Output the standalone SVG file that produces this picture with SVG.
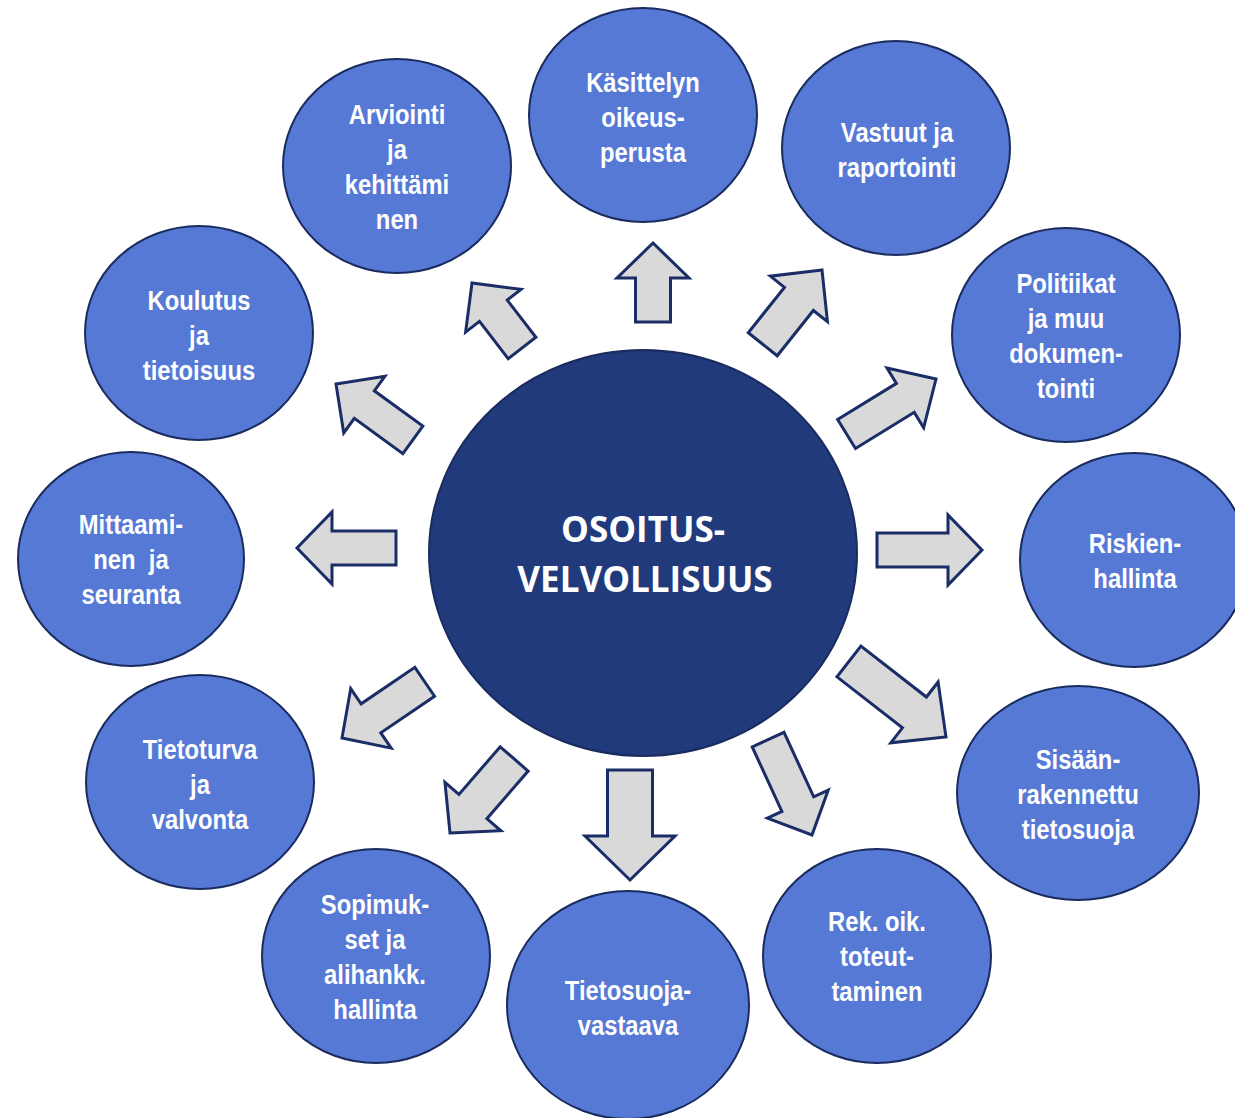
<svg xmlns="http://www.w3.org/2000/svg" width="1235" height="1118" viewBox="0 0 1235 1118">
<style>
.node{fill:#5679d6;stroke:#1a2b5e;stroke-width:2}
.hub{fill:#203a7c;stroke:#1a2b5e;stroke-width:2}
.lbl{font-family:"Liberation Sans",Arial,sans-serif;font-weight:bold;font-size:28px;fill:#ffffff;text-anchor:middle;white-space:pre}
.hubl{font-family:"Open Sans","Liberation Sans",sans-serif;font-weight:bold;font-size:35px;fill:#ffffff;text-anchor:middle}
.arr{fill:#d9d9d9;stroke:#1b2d66;stroke-width:3;stroke-linejoin:miter}
</style>
<rect width="1235" height="1118" fill="#ffffff"/>
<g id="connectors">
<path class="arr" transform="translate(653,243) rotate(-90)" d="M0,0 L-35,-36 L-35,-17.5 L-79,-17.5 L-79,17.5 L-35,17.5 L-35,36 Z"/>
<path class="arr" transform="translate(822,270) rotate(-51.4)" d="M0,0 L-37,-36.5 L-37,-18.5 L-95,-18.5 L-95,18.5 L-37,18.5 L-37,36.5 Z"/>
<path class="arr" transform="translate(936,379) rotate(-31.6)" d="M0,0 L-36,-35 L-36,-17 L-105,-17 L-105,17 L-36,17 L-36,35 Z"/>
<path class="arr" transform="translate(982,550)" d="M0,0 L-34,-35 L-34,-17 L-105,-17 L-105,17 L-34,17 L-34,35 Z"/>
<path class="arr" transform="translate(946,737) rotate(37.9)" d="M0,0 L-40,-38.5 L-40,-19.5 L-123,-19.5 L-123,19.5 L-40,19.5 L-40,38.5 Z"/>
<path class="arr" transform="translate(812,835) rotate(65.3)" d="M0,0 L-34,-33.5 L-34,-17.5 L-105,-17.5 L-105,17.5 L-34,17.5 L-34,33.5 Z"/>
<path class="arr" transform="translate(630,880) rotate(90)" d="M0,0 L-44,-45 L-44,-22.5 L-110,-22.5 L-110,22.5 L-44,22.5 L-44,45 Z"/>
<path class="arr" transform="translate(450,833) rotate(130.9)" d="M0,0 L-35,-37 L-35,-18.5 L-98,-18.5 L-98,18.5 L-35,18.5 L-35,37 Z"/>
<path class="arr" transform="translate(342,738) rotate(145.8)" d="M0,0 L-35,-36 L-35,-17.5 L-100,-17.5 L-100,17.5 L-35,17.5 L-35,36 Z"/>
<path class="arr" transform="translate(297,548) rotate(180)" d="M0,0 L-35,-36 L-35,-17 L-99,-17 L-99,17 L-35,17 L-35,36 Z"/>
<path class="arr" transform="translate(336,384) rotate(-144)" d="M0,0 L-35,-35 L-35,-17 L-95,-17 L-95,17 L-35,17 L-35,35 Z"/>
<path class="arr" transform="translate(472,283) rotate(-127.6)" d="M0,0 L-35,-35 L-35,-17.5 L-82,-17.5 L-82,17.5 L-35,17.5 L-35,35 Z"/>
</g>
<g id="hub">
<ellipse class="hub" cx="643" cy="553" rx="214" ry="203"/>
<text class="hubl" x="643" y="542">OSOITUS-</text>
<text class="hubl" x="645" y="592">VELVOLLISUUS</text>
</g>
<g id="n1">
<ellipse class="node" cx="643" cy="115" rx="114" ry="107"/>
<g transform="translate(643 0) scale(0.85 1)">
<text class="lbl" x="0" y="92">Käsittelyn</text>
<text class="lbl" x="0" y="127">oikeus-</text>
<text class="lbl" x="0" y="162">perusta</text>
</g>
</g>
<g id="n2">
<ellipse class="node" cx="896" cy="148" rx="114" ry="107"/>
<g transform="translate(897 0) scale(0.85 1)">
<text class="lbl" x="0" y="142">Vastuut ja</text>
<text class="lbl" x="0" y="177">raportointi</text>
</g>
</g>
<g id="n3">
<ellipse class="node" cx="1066" cy="335" rx="114" ry="107"/>
<g transform="translate(1066 0) scale(0.85 1)">
<text class="lbl" x="0" y="293">Politiikat</text>
<text class="lbl" x="0" y="328">ja muu</text>
<text class="lbl" x="0" y="363">dokumen-</text>
<text class="lbl" x="0" y="398">tointi</text>
</g>
</g>
<g id="n4">
<ellipse class="node" cx="1134" cy="560" rx="114" ry="107"/>
<g transform="translate(1135 0) scale(0.85 1)">
<text class="lbl" x="0" y="553">Riskien-</text>
<text class="lbl" x="0" y="588">hallinta</text>
</g>
</g>
<g id="n5">
<ellipse class="node" cx="1078" cy="793" rx="121" ry="107"/>
<g transform="translate(1078 0) scale(0.85 1)">
<text class="lbl" x="0" y="769">Sisään-</text>
<text class="lbl" x="0" y="804">rakennettu</text>
<text class="lbl" x="0" y="839">tietosuoja</text>
</g>
</g>
<g id="n6">
<ellipse class="node" cx="877" cy="956" rx="114" ry="107"/>
<g transform="translate(877 0) scale(0.85 1)">
<text class="lbl" x="0" y="931">Rek. oik.</text>
<text class="lbl" x="0" y="966">toteut-</text>
<text class="lbl" x="0" y="1001">taminen</text>
</g>
</g>
<g id="n7">
<ellipse class="node" cx="628" cy="1005" rx="121" ry="114"/>
<g transform="translate(628 0) scale(0.85 1)">
<text class="lbl" x="0" y="1000">Tietosuoja-</text>
<text class="lbl" x="0" y="1035">vastaava</text>
</g>
</g>
<g id="n8">
<ellipse class="node" cx="376" cy="956" rx="114" ry="107"/>
<g transform="translate(375 0) scale(0.85 1)">
<text class="lbl" x="0" y="914">Sopimuk-</text>
<text class="lbl" x="0" y="949">set ja</text>
<text class="lbl" x="0" y="984">alihankk.</text>
<text class="lbl" x="0" y="1019">hallinta</text>
</g>
</g>
<g id="n9">
<ellipse class="node" cx="200" cy="782" rx="114" ry="107"/>
<g transform="translate(200 0) scale(0.85 1)">
<text class="lbl" x="0" y="759">Tietoturva</text>
<text class="lbl" x="0" y="794">ja</text>
<text class="lbl" x="0" y="829">valvonta</text>
</g>
</g>
<g id="n10">
<ellipse class="node" cx="131" cy="559" rx="113" ry="107"/>
<g transform="translate(131 0) scale(0.85 1)">
<text class="lbl" x="0" y="534">Mittaami-</text>
<text class="lbl" x="0" y="569">nen  ja</text>
<text class="lbl" x="0" y="604">seuranta</text>
</g>
</g>
<g id="n11">
<ellipse class="node" cx="199" cy="333" rx="114" ry="107"/>
<g transform="translate(199 0) scale(0.85 1)">
<text class="lbl" x="0" y="310">Koulutus</text>
<text class="lbl" x="0" y="345">ja</text>
<text class="lbl" x="0" y="380">tietoisuus</text>
</g>
</g>
<g id="n12">
<ellipse class="node" cx="397" cy="166" rx="114" ry="107"/>
<g transform="translate(397 0) scale(0.85 1)">
<text class="lbl" x="0" y="124">Arviointi</text>
<text class="lbl" x="0" y="159">ja</text>
<text class="lbl" x="0" y="194">kehittämi</text>
<text class="lbl" x="0" y="229">nen</text>
</g>
</g>
</svg>
